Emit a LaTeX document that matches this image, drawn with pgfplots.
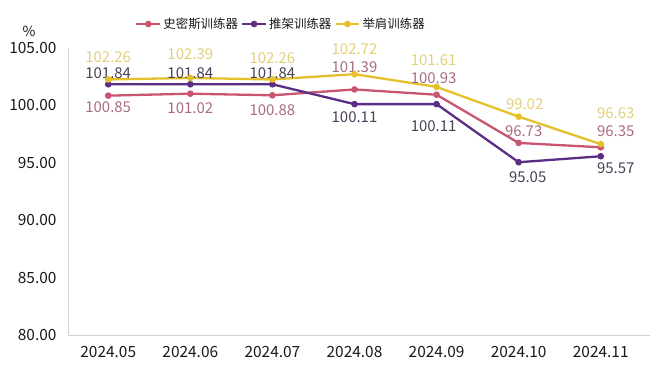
\documentclass[border=0pt]{standalone}
\usepackage{pgfplots}
\pgfplotsset{compat=1.18}
\usepackage{pgfplotstable}
\usepackage{fontspec}
\setmainfont{Noto Sans CJK SC}
\definecolor{cpink}{RGB}{201,86,112}
\definecolor{cpurple}{RGB}{92,45,132}
\definecolor{cgold}{RGB}{230,192,42}
\definecolor{lpink}{RGB}{168,108,130}
\definecolor{lpurple}{RGB}{75,63,87}
\definecolor{lgold}{RGB}{226,208,120}
\pgfplotstableread{
x y dy dx
0 100.85 -12 0
1 101.02 -14 0
2 100.88 -15 0
3 101.39 22 0
4 100.93 17 -3
5 96.73 12 5
6 96.35 16 15
}\smith
\pgfplotstableread{
x y dy dx
0 101.84 11 0
1 101.84 11 0
2 101.84 11 0
3 100.11 -13 0
4 100.11 -22 -3
5 95.05 -15 9
6 95.57 -12 15
}\push
\pgfplotstableread{
x y dy dx
0 102.26 22 0
1 102.39 24 0
2 102.26 21 0
3 102.72 25 0
4 101.61 27 -3
5 99.02 12 6
6 96.63 31 15
}\shoulder
\begin{document}
\begin{tikzpicture}
\begin{axis}[
  scale only axis, width=582bp, height=287bp,
  xmin=-0.49, xmax=6.6, ymin=80, ymax=105,
  ytick={80,85,90,95,100,105},
  xtick={0,1,2,3,4,5,6},
  xticklabels={2024.05,2024.06,2024.07,2024.08,2024.09,2024.10,2024.11},
  axis x line*=bottom, axis y line*=left,
  axis line style={draw=black!18, line width=0.9pt},
  major tick length=0pt,
  /pgf/number format/assume math mode=true,
  yticklabel style={/pgf/number format/fixed, /pgf/number format/fixed zerofill, /pgf/number format/precision=2, xshift=-8bp},
  ticklabel style={font=\fontsize{15.5}{17}\selectfont, text=black!90},
  xticklabel style={yshift=-8bp},
  clip=false,
  legend style={at={(0.366,1)}, anchor=center, yshift=24bp, draw=none, fill=none,
    font=\fontsize{12.5}{14}\selectfont, text=black!90,
    /tikz/every even column/.append style={column sep=1bp}},
  legend columns=3,
  legend cell align=left,
  legend image code/.code={\draw[mark repeat=2,mark phase=2,#1] plot coordinates {(0cm,0cm) (0.42cm,0cm) (0.84cm,0cm)};},
  every axis plot/.append style={line width=2.3bp, mark=*, mark size=2.1bp},
  nodes near coords={\pgfmathprintnumber[fixed,fixed zerofill,precision=2]{\pgfplotspointmeta}},
  visualization depends on={\thisrow{dy} \as \dyv},
  visualization depends on={\thisrow{dx} \as \dxv},
  nodes near coords style={anchor=center, yshift={(\dyv)*1bp}, xshift={(\dxv)*1bp}, font=\fontsize{15}{16}\selectfont},
]
\addplot[color=cpink, nodes near coords style={text=lpink}] table[x=x,y=y] {\smith};
\addlegendentry{史密斯训练器}
\addplot[color=cpurple, nodes near coords style={text=lpurple}] table[x=x,y=y] {\push};
\addlegendentry{推架训练器}
\addplot[color=cgold, nodes near coords style={text=lgold}] table[x=x,y=y] {\shoulder};
\addlegendentry{举肩训练器}
\coordinate (bl) at (rel axis cs:0,0);
\coordinate (tr) at (rel axis cs:1,1);
\node[font=\fontsize{14}{15}\selectfont, text=black!90, inner sep=0pt] at ([shift={(-39bp,17bp)}]rel axis cs:0,1) {\%};
\end{axis}
\pgfresetboundingbox
\path ([shift={(-68bp,-42bp)}]bl) rectangle ([shift={(10bp,48bp)}]tr);
\end{tikzpicture}
\end{document}
